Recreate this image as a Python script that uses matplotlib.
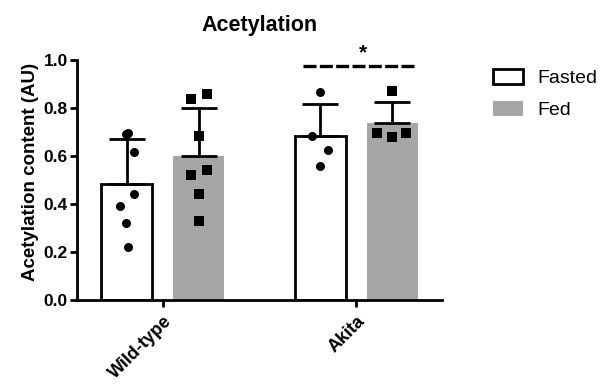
import matplotlib.pyplot as plt
import numpy as np

plt.rcParams['font.family'] = ['Liberation Sans', 'DejaVu Sans']

groups = ['Wild-type', 'Akita']
conditions = ['Fasted', 'Fed']

# individual animals, acetylation content (AU)
wt_fasted = [0.690, 0.696, 0.617, 0.442, 0.392, 0.322, 0.222]
wt_fed = [0.836, 0.857, 0.685, 0.521, 0.542, 0.442, 0.331]
akita_fasted = [0.868, 0.685, 0.625, 0.558]
akita_fed = [0.872, 0.697, 0.681, 0.694]

# horizontal scatter of the dots inside each bar (fraction of group spacing)
wt_fasted_dx = [-0.005, 0.008, 0.039, 0.039, -0.036, -0.003, 0.005]
wt_fed_dx = [-0.041, 0.041, 0.0, -0.039, 0.041, 0.0, 0.0]
akita_fasted_dx = [0.0, -0.041, 0.041, 0.0]
akita_fed_dx = [0.0, -0.078, 0.0, 0.072]

data = {
    ('Wild-type', 'Fasted'): (wt_fasted, wt_fasted_dx),
    ('Wild-type', 'Fed'): (wt_fed, wt_fed_dx),
    ('Akita', 'Fasted'): (akita_fasted, akita_fasted_dx),
    ('Akita', 'Fed'): (akita_fed, akita_fed_dx),
}

fig = plt.figure(figsize=(6.03, 3.89), dpi=100)
ax = fig.add_axes([0.1277, 0.2288, 0.605, 0.617])

width = 0.264
offset = {'Fasted': -0.186, 'Fed': 0.186}
style = {
    'Fasted': dict(color='white', edgecolor='black', linewidth=2.0),
    'Fed': dict(color='#a6a6a6', edgecolor='none', linewidth=0),
}
marker = {'Fasted': 'o', 'Fed': 's'}

handles = {}
for gi, g in enumerate(groups):
    for c in conditions:
        vals, dx = data[(g, c)]
        vals = np.array(vals)
        mean = vals.mean()
        sd = vals.std(ddof=1)
        x = gi + offset[c]
        b = ax.bar(x, mean, width=width, zorder=2, **style[c])
        handles[c] = b
        ax.errorbar(x, mean, yerr=[[0], [sd]], fmt='none', ecolor='black',
                    elinewidth=2.0, capsize=13, capthick=2.0, zorder=3)
        ax.scatter(x + np.array(dx), vals, marker=marker[c], s=42,
                   color='black', zorder=4, linewidths=0)

# significance bar over Akita
ax.plot([0.726, 1.302], [0.975, 0.975], color='black', lw=2.4,
        linestyle=(0, (3.9, 1.0)), clip_on=False, zorder=5)
ax.text(1.034, 0.99, '*', ha='center', va='bottom', fontsize=15,
        fontweight='bold', clip_on=False)

ax.set_xlim(-0.444, 1.442)
ax.set_ylim(0, 1.0)
ax.set_xticks(range(len(groups)))
ax.set_xticklabels(groups, rotation=45, ha='right', rotation_mode='anchor',
                   fontsize=13, fontweight='bold')
ax.set_yticks(np.arange(0, 1.01, 0.2))
ax.set_yticklabels([f'{v:.1f}' for v in np.arange(0, 1.01, 0.2)],
                   fontsize=12.5, fontweight='bold')
ax.set_ylabel('Acetylation content (AU)', fontsize=13.5, fontweight='bold')
ax.yaxis.set_label_coords(-0.103, 0.535)
ax.set_title('Acetylation', fontsize=15.5, fontweight='bold', pad=21)

for s in ['top', 'right']:
    ax.spines[s].set_visible(False)
for s in ['left', 'bottom']:
    ax.spines[s].set_linewidth(2.0)
ax.tick_params(width=2.0, length=5, direction='out', pad=1.5)
ax.tick_params(axis='x', pad=4)

fig.legend([handles['Fasted'], handles['Fed']], conditions,
           loc='upper left', bbox_to_anchor=(0.8176, 0.822), frameon=False,
           fontsize=14, handlelength=1.55, handleheight=0.77,
           handletextpad=0.72, labelspacing=0.73, borderpad=0,
           borderaxespad=0)

fig.savefig('out.png', dpi=100)
